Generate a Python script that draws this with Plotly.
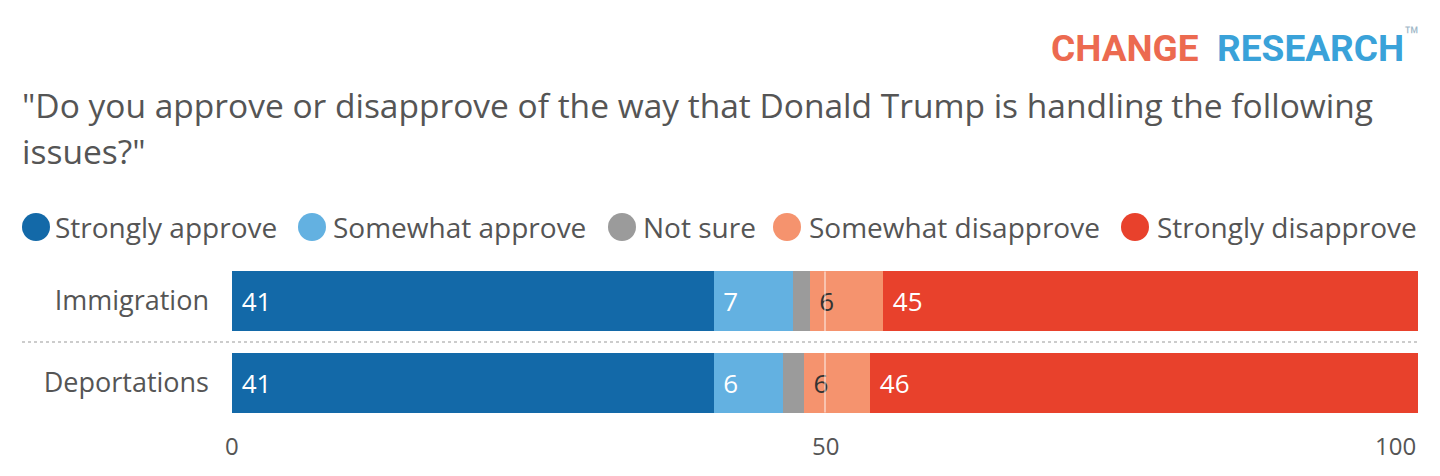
import plotly.graph_objects as go

# Données
categories = ["Immigration", "Deportations"]
series_names = ["Strongly approve", "Somewhat approve", "Not sure",
                "Somewhat disapprove", "Strongly disapprove"]
strongly_approve = [40.6, 40.6]
somewhat_approve = [6.7, 5.9]
not_sure = [1.4, 1.7]
somewhat_disapprove = [6.2, 5.6]
strongly_disapprove = [45.1, 46.2]
tick_values = [0, 50, 100]

colors = ["#1369a8", "#63b1e1", "#9b9b9b", "#f5936e", "#e8412c"]
text_colors = ["white", "white", "white", "#333333", "white"]
series_values = [strongly_approve, somewhat_approve, not_sure,
                 somewhat_disapprove, strongly_disapprove]

FONT = "Open Sans"
GREY = "#555555"

# la page place la figure à 8px du coin (marge du body)
OFFSET = 8
W, H = 1440 - OFFSET, 476 - OFFSET
# zone de tracé en pixels (coordonnées de la page)
PLOT_L, PLOT_R, PLOT_T, PLOT_B = 232, 1418, 260, 424


def xp(px):
    return (px - PLOT_L) / (PLOT_R - PLOT_L)


def yp(py):
    return (PLOT_B - py) / (PLOT_B - PLOT_T)


fig = go.Figure()

for name, vals, color, tcol in zip(series_names, series_values, colors, text_colors):
    # pas d'étiquette sur les segments trop étroits
    labels = [" " + str(int(v + 0.5)) if v >= 3 else "" for v in vals]
    positions = ["inside" if v >= 3 else "none" for v in vals]
    fig.add_trace(go.Bar(
        y=categories, x=vals, name=name, orientation="h",
        marker=dict(color=color, line=dict(width=0)),
        text=labels, textposition=positions, insidetextanchor="start",
        textfont=dict(family=FONT, size=26, color=tcol),
        showlegend=False, hoverinfo="skip",
    ))

# Ligne 50 par-dessus les barres
fig.add_shape(type="line", xref="x", yref="y", x0=50, x1=50, y0=-0.36, y1=1.36,
              line=dict(color="rgba(255,255,255,0.45)", width=2), layer="above")

# Séparateur pointillé
fig.add_shape(type="line", xref="paper", yref="y", x0=xp(22), x1=1, y0=0.5, y1=0.5,
              line=dict(color="#cccccc", width=2, dash="dot"))

# Légende manuelle (cercles)
legend_circle_x = [36, 312, 622, 787, 1135]
legend_text_x = [53, 331, 641, 807, 1155]
legend_y = 227
for name, color, cx, tx in zip(series_names, colors, legend_circle_x, legend_text_x):
    fig.add_shape(type="circle", xref="paper", yref="paper",
                  x0=xp(cx - 14), x1=xp(cx + 14), y0=yp(legend_y + 14), y1=yp(legend_y - 14),
                  fillcolor=color, line=dict(width=0))
    fig.add_annotation(x=xp(tx), y=yp(legend_y), xref="paper", yref="paper",
                       text=name, showarrow=False, xanchor="left", yanchor="middle",
                       font=dict(family=FONT, size=28, color=GREY))

# Titre (deux lignes)
title_lines = ['"Do you approve or disapprove of the way that Donald Trump is handling the following',
               'issues?"']
for line, ty in zip(title_lines, [105, 151]):
    fig.add_annotation(x=xp(20), y=yp(ty), xref="paper", yref="paper",
                       text=line, showarrow=False, xanchor="left", yanchor="middle",
                       font=dict(family=FONT, size=33.5, color=GREY))

# Logo
fig.add_annotation(
    x=xp(1422), y=yp(45), xref="paper", yref="paper", showarrow=False,
    xanchor="right", yanchor="middle",
    text="<b><span style='color:#ec6a50'>CHANGE</span>  "
         "<span style='color:#3aa2d9'>RESEARCH</span></b>"
         "<sup><span style='color:#9fb8c8'>™</span></sup>",
    font=dict(family="Roboto", size=37),
)

# Étiquettes de l'axe x
for v in tick_values:
    fig.add_annotation(x=v, y=0, xref="x", yref="paper", text=str(v), showarrow=False,
                       xanchor="right" if v == 100 else "center", yanchor="top", yshift=-3,
                       font=dict(family=FONT, size=24, color=GREY))

fig.update_layout(
    width=W, height=H,
    barmode="stack", bargap=0.28,
    margin=dict(l=PLOT_L - OFFSET, r=W - (PLOT_R - OFFSET),
                t=PLOT_T - OFFSET, b=H - (PLOT_B - OFFSET), pad=0),
    plot_bgcolor="white", paper_bgcolor="white",
    showlegend=False,
    font=dict(family=FONT, color=GREY),
)
fig.update_xaxes(range=[0, 100], showticklabels=False, showgrid=False,
                 zeroline=False, showline=False, fixedrange=True)
fig.update_yaxes(autorange="reversed", showgrid=False, zeroline=False, showline=False,
                 tickfont=dict(family=FONT, size=27, color=GREY),
                 ticklabelstandoff=22, ticks="", fixedrange=True)

fig.write_html("out.html")
